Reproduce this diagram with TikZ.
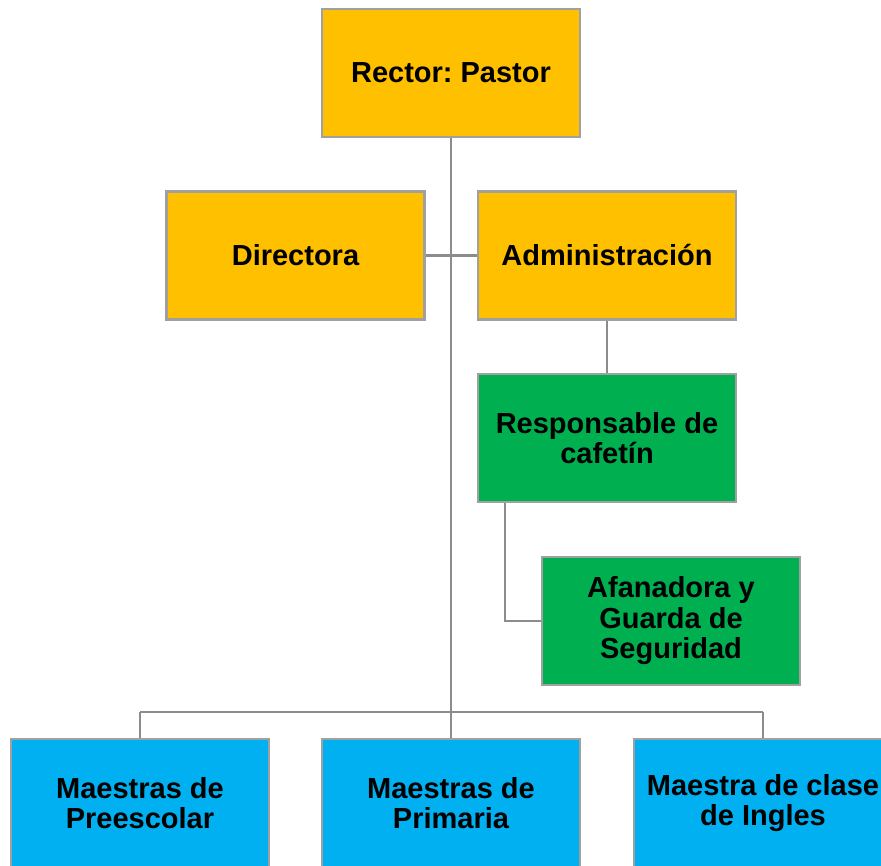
\documentclass[tikz,border=0pt]{standalone}
\usepackage{fontspec}
\setmainfont{Liberation Sans}
\frenchspacing
\definecolor{cyel}{HTML}{FFC000}
\definecolor{cgrn}{HTML}{00B050}
\definecolor{cblu}{HTML}{00B0F0}
\definecolor{cbord}{HTML}{A0A0A0}
\definecolor{cline}{HTML}{8C8C8C}
\begin{document}
\begin{tikzpicture}[x=1pt,y=-1pt,
  orgbox/.style={draw=cbord,line width=2.5pt,minimum width=258pt,minimum height=128pt,
    inner sep=0pt,align=center,font=\fontsize{29}{30.5}\selectfont\bfseries},
  yel/.style={orgbox,fill=cyel},
  grn/.style={orgbox,fill=cgrn},
  blu/.style={orgbox,fill=cblu},
  conn/.style={draw=cline,line width=2.5pt}]
\clip (0,0) rectangle (881,865);
\fill[white] (0,0) rectangle (881,865);
\coordinate (bus) at (451,712);
\coordinate (bl) at (140,712);
\coordinate (br) at (763,712);
\coordinate (cj) at (505,621);
\node[yel] (rector) at (451,73) {Rector: Pastor};
\node[yel] (dir) at (295.5,255.5) {Directora};
\node[yel] (adm) at (607,255.5) {Administración};
\node[grn] (resp) at (607,438) {Responsable de\\cafetín};
\node[grn] (afa) at (671,621) {Afanadora y\\Guarda de\\Seguridad};
\node[blu] (pre) at (140,803) {Maestras de\\Preescolar};
\node[blu] (pri) at (451,803) {Maestras de\\Primaria};
\node[blu] (ing) at (763,803) {Maestra de clase\vphantom{p}\\de Ingles};
\draw[conn] (rector.south) -- (bus);
\draw[conn] (dir.east) -- (adm.west);
\draw[conn] (adm.south) -- (resp.north);
\draw[conn] (resp.south -| cj) -- (cj) -- (afa.west);
\draw[conn] (bl) -- (br);
\draw[conn] (bl) -- (pre.north);
\draw[conn] (br) -- (ing.north);
\draw[conn] (bus) -- (pri.north);
\end{tikzpicture}
\end{document}
